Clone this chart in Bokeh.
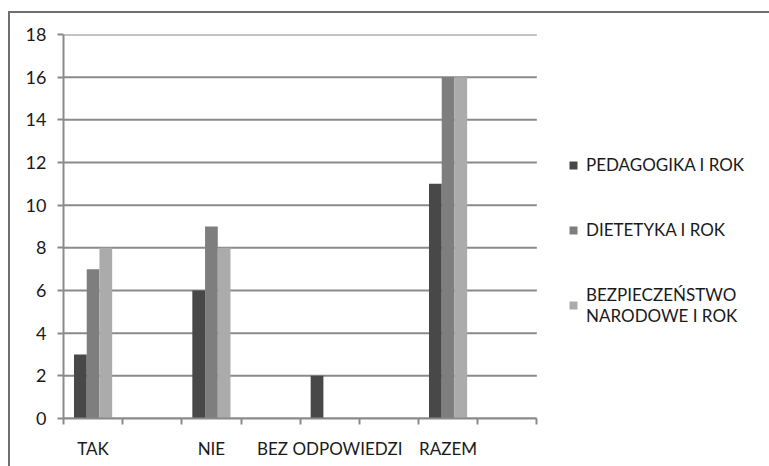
from bokeh.plotting import figure
from bokeh.models import Range1d, FixedTicker, Legend, LegendItem
from bokeh.embed import file_html
from bokeh.resources import INLINE

categories = ["TAK", "", "NIE", "", "BEZ ODPOWIEDZI", "", "RAZEM", ""]
pedagogika = [3, 0, 6, 0, 2, 0, 11, 0]
dietetyka = [7, 0, 9, 0, 0, 0, 16, 0]
bezpieczenstwo = [8, 0, 8, 0, 0, 0, 16, 0]
series_names = ["PEDAGOGIKA I ROK", "DIETETYKA I ROK", "BEZPIECZEŃSTWO\nNARODOWE I ROK"]
y_ticks = [0, 2, 4, 6, 8, 10, 12, 14, 16, 18]

colors = ["#484848", "#7e7e7e", "#ababab"]
FONT = "Lato"
GRID = "#8a8a8a"

W, H = 761, 455                    # element size (2px border included)
LEFT, TOP, BOTTOM = 53, 21, 50
PLOT_PX = 472                      # width of the bar area in pixels
FRAME_PX = (W - 2) - LEFT          # frame reaches the right edge (legend lives inside)
n = len(categories)

p = figure(width=W, height=H, output_backend="svg", toolbar_location=None,
           x_range=Range1d(0, n * FRAME_PX / PLOT_PX), y_range=Range1d(0, 18),
           min_border_left=LEFT, min_border_right=0, min_border_top=TOP, min_border_bottom=BOTTOM)
p.styles = {"border-left": "2px solid #6f6f6f", "border-top": "2px solid #6f6f6f",
            "margin-top": "11px", "margin-left": "8px"}
p.outline_line_color = None
p.background_fill_color = "white"

# horizontal grid lines limited to the category area
p.segment(x0=0, x1=n, y0=y_ticks, y1=y_ticks, line_color=GRID, line_width=2)

bw = 0.215
centers = [i + 0.5 for i in range(n)]
renderers = []
for k, (vals, col) in enumerate(zip([pedagogika, dietetyka, bezpieczenstwo], colors)):
    xs = [c + (k - 1) * bw for c in centers]
    r = p.vbar(x=xs, top=vals, bottom=0, width=bw, fill_color=col, line_color=None)
    renderers.append(r)

# axes
p.xaxis.bounds = (0, n)
p.xaxis.ticker = FixedTicker(ticks=centers, minor_ticks=list(range(n + 1)))
p.xaxis.major_label_overrides = {c: lab for c, lab in zip(centers, categories)}
p.xaxis.major_tick_line_color = None
p.xaxis.major_tick_out = 0
p.xaxis.major_tick_in = 0
p.xaxis.minor_tick_out = 6
p.xaxis.minor_tick_in = 0
p.xaxis.minor_tick_line_color = GRID
p.xaxis.minor_tick_line_width = 2
p.xaxis.axis_line_color = GRID
p.xaxis.axis_line_width = 2
p.xaxis.major_label_standoff = 13

p.yaxis.ticker = FixedTicker(ticks=y_ticks)
p.yaxis.minor_tick_line_color = None
p.yaxis.major_tick_out = 6
p.yaxis.major_tick_in = 0
p.yaxis.major_tick_line_color = GRID
p.yaxis.major_tick_line_width = 2
p.yaxis.axis_line_color = GRID
p.yaxis.axis_line_width = 2
p.yaxis.major_label_standoff = 11

for ax in (p.xaxis, p.yaxis):
    ax.major_label_text_font = FONT
    ax.major_label_text_color = "#1a1a1a"
p.xaxis.major_label_text_font_size = "17px"
p.yaxis.major_label_text_font_size = "18px"

p.xgrid.grid_line_color = None
p.ygrid.grid_line_color = None

legend = Legend(items=[LegendItem(label=s, renderers=[r]) for s, r in zip(series_names, renderers)],
                location=(505, 92))
legend.glyph_width = 10
legend.glyph_height = 10
legend.label_standoff = 8
legend.spacing = 44
legend.padding = 0
legend.margin = 0
legend.border_line_color = None
legend.background_fill_alpha = 0
legend.label_text_font = FONT
legend.label_text_font_size = "17px"
legend.label_text_color = "#1a1a1a"
p.add_layout(legend)

open("out.html", "w").write(file_html(p, INLINE))
